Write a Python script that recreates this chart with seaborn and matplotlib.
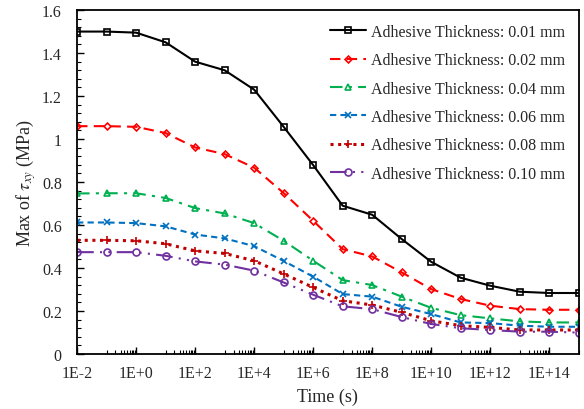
import numpy as np
import pandas as pd
import seaborn as sns
import matplotlib
matplotlib.use("Agg")
import matplotlib.pyplot as plt
from matplotlib.ticker import FixedLocator, LogLocator, MultipleLocator, NullFormatter

sns.set_style("ticks")
plt.rcParams["font.family"] = ["Liberation Serif", "DejaVu Serif"]
plt.rcParams["mathtext.fontset"] = "stix"

# Data (time in s, max shear stress in MPa)
time = [1e-2, 1e-1, 1e0, 1e1, 1e2, 1e3, 1e4, 1e5, 1e6,
        1e7, 1e8, 1e9, 1e10, 1e11, 1e12, 1e13, 1e14, 1e15]

t_001 = [1.50, 1.50, 1.495, 1.45, 1.36, 1.32, 1.23, 1.057, 0.879,
         0.690, 0.648, 0.535, 0.429, 0.355, 0.318, 0.290, 0.284, 0.284]
t_002 = [1.060, 1.060, 1.057, 1.028, 0.961, 0.930, 0.867, 0.749, 0.620,
         0.488, 0.454, 0.380, 0.302, 0.256, 0.225, 0.209, 0.206, 0.206]
t_004 = [0.747, 0.748, 0.748, 0.726, 0.679, 0.654, 0.609, 0.527, 0.434,
         0.344, 0.321, 0.267, 0.215, 0.181, 0.166, 0.152, 0.147, 0.147]
t_006 = [0.612, 0.612, 0.609, 0.594, 0.556, 0.538, 0.502, 0.433, 0.360,
         0.279, 0.267, 0.220, 0.186, 0.147, 0.144, 0.132, 0.127, 0.127]
t_008 = [0.529, 0.529, 0.527, 0.513, 0.480, 0.468, 0.434, 0.373, 0.310,
         0.248, 0.228, 0.194, 0.155, 0.132, 0.124, 0.112, 0.112, 0.112]
t_010 = [0.474, 0.474, 0.474, 0.457, 0.431, 0.416, 0.388, 0.333, 0.276,
         0.222, 0.209, 0.172, 0.140, 0.120, 0.112, 0.104, 0.104, 0.100]

labels = ["Adhesive Thickness: 0.01 mm", "Adhesive Thickness: 0.02 mm",
          "Adhesive Thickness: 0.04 mm", "Adhesive Thickness: 0.06 mm",
          "Adhesive Thickness: 0.08 mm", "Adhesive Thickness: 0.10 mm"]
series = [t_001, t_002, t_004, t_006, t_008, t_010]

xtick_vals = [1e-2, 1e0, 1e2, 1e4, 1e6, 1e8, 1e10, 1e12, 1e14]
xtick_labels = ["1E-2", "1E+0", "1E+2", "1E+4", "1E+6", "1E+8", "1E+10", "1E+12", "1E+14"]
ytick_vals = [0, 0.2, 0.4, 0.6, 0.8, 1.0, 1.2, 1.4, 1.6]
ytick_labels = ["0", "0.2", "0.4", "0.6", "0.8", "1", "1.2", "1.4", "1.6"]

colors = ["black", "#FF0000", "#00B050", "#0070C0", "#C00000", "#7030A0"]
styles = ["-", (0, (5, 3)), (0, (6, 3, 1.5, 3)), (0, (3, 2)), (0, (1, 1.5)),
          (0, (8, 3, 1, 3, 1, 3))]
markers = ["s", "D", "^", "x", "+", "o"]
msizes = [5, 3.5, 4.8, 5, 6, 5]
lwidths = [1.5, 1.5, 1.5, 1.5, 2.2, 1.5]

fig = plt.figure(figsize=(5.84, 4.10), dpi=100)
ax = fig.add_axes([0.132, 0.134, 0.859, 0.839])

for vals, lab, c, ls, m, ms, lw in zip(series, labels, colors, styles, markers, msizes, lwidths):
    df = pd.DataFrame({"Time": time, "Tau": vals})
    sns.lineplot(data=df, x="Time", y="Tau", ax=ax, label=lab, color=c,
                 linestyle=ls, linewidth=lw, marker=m, markersize=ms,
                 markerfacecolor="none", markeredgecolor=c, markeredgewidth=1.2)

ax.set_xscale("log")
ax.set_xlim(1e-2, 1e15)
ax.set_ylim(0, 1.6)
ax.xaxis.set_major_locator(FixedLocator(xtick_vals))
ax.set_xticklabels(xtick_labels)
# Excel-style minor ticks: only inside each two-decade span
ax.xaxis.set_minor_locator(LogLocator(base=100, subs=np.arange(10, 100, 10), numticks=100))
ax.xaxis.set_minor_formatter(NullFormatter())
ax.set_yticks(ytick_vals)
ax.set_yticklabels(ytick_labels)
ax.yaxis.set_minor_locator(MultipleLocator(0.04))

ax.tick_params(which="both", direction="in", labelsize=11.5, color="black")
ax.tick_params(which="major", length=5, width=1)
ax.tick_params(which="minor", length=3, width=0.8)
ax.tick_params(axis="x", which="major", pad=8)
ax.tick_params(axis="y", which="major", pad=11)
for s in ax.spines.values():
    s.set_linewidth(1.3)
    s.set_color("black")

ax.set_xlabel("Time (s)", fontsize=13, labelpad=5)
ax.set_ylabel(r"Max of $\tau_{xy}$ (MPa)", fontsize=13, labelpad=3)

ax.legend(loc="upper right", frameon=False, fontsize=11.5, handlelength=2.3,
          handletextpad=0.3, labelspacing=0.78, borderaxespad=0.45, numpoints=1)

fig.savefig("out.png", dpi=100)
